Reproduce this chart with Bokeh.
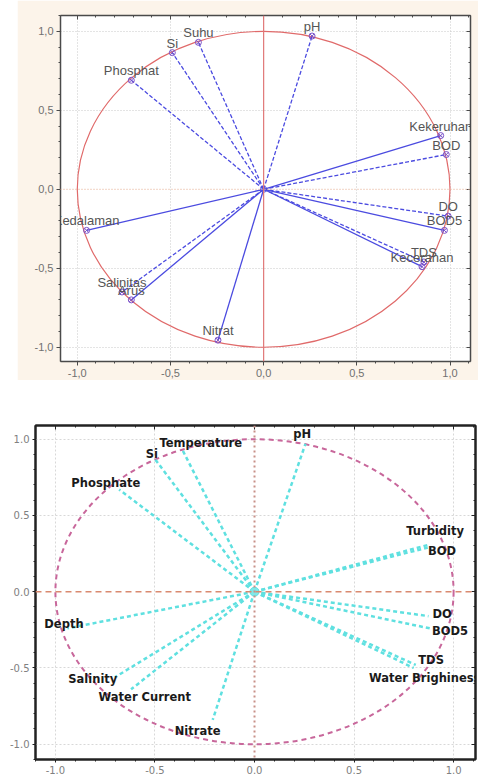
from bokeh.plotting import figure
from bokeh.models import (ColumnDataSource, FixedTicker, LinearAxis, Range1d, Spacer,
                          LabelSet, Span)
from bokeh.layouts import column, row
from bokeh.core.properties import value
from bokeh.embed import file_html
from bokeh.resources import INLINE

# ---------------- data: top panel (Indonesian labels) ----------------
top_names = ["pH", "Suhu", "Si", "Phosphat", "Kekeruhan", "BOD", "DO", "BOD5",
             "TDS", "Kecerahan", "Kedalaman", "Salinitas", "Arus", "Nitrat"]
top_x = [0.26, -0.35, -0.49, -0.71, 0.95, 0.98, 0.99, 0.97, 0.86, 0.85, -0.95, -0.76, -0.71, -0.245]
top_y = [0.97, 0.93, 0.865, 0.69, 0.34, 0.22, -0.17, -0.26, -0.46, -0.49, -0.26, -0.65, -0.70, -0.955]
top_solid = [False, False, False, False, True, False, False, True, False, True, True, False, True, True]

# ---------------- data: bottom panel (English labels) ----------------
bot_names = ["pH", "Temperature", "Si", "Phosphate", "Turbidity", "BOD", "DO", "BOD5",
             "TDS", "Water Brighiness", "Depth", "Salinity", "Water Current", "Nitrate"]
bot_x = [0.256, -0.36, -0.50, -0.68, 0.88, 0.87, 0.874, 0.88, 0.81, 0.80, -0.94, -0.70, -0.62, -0.21]
bot_y = [0.97, 0.925, 0.87, 0.67, 0.31, 0.29, -0.16, -0.24, -0.48, -0.50, -0.24, -0.56, -0.64, -0.84]
# label anchor positions (as placed in the picture)
bot_lab_x = [0.24, -0.27, -0.516, -0.747, 0.907, 0.942, 0.942, 0.982, 0.887, 0.855, -0.957, -0.812, -0.551, -0.286]
bot_lab_y = [1.035, 0.977, 0.906, 0.712, 0.395, 0.265, -0.149, -0.259, -0.447, -0.563, -0.214, -0.57, -0.693, -0.913]

major_ticks = [-1.0, -0.5, 0.0, 0.5, 1.0]
top_tick_labels = ["-1,0", "-0,5", "0,0", "0,5", "1,0"]
bot_tick_labels = ["-1.0", "-0.5", "0.0", "0.5", "1.0"]
minor_ticks = [-1.1, -1.0, -0.9, -0.8, -0.7, -0.6, -0.5, -0.4, -0.3, -0.2, -0.1, 0.0,
               0.1, 0.2, 0.3, 0.4, 0.5, 0.6, 0.7, 0.8, 0.9, 1.0, 1.1]


def style_axes(p, labels, color, label_color, font, fsize, lw, tick_out):
    overrides = {t: l for t, l in zip(major_ticks, labels)}
    for ax in list(p.xaxis) + list(p.yaxis):
        ax.ticker = FixedTicker(ticks=major_ticks, minor_ticks=minor_ticks)
        ax.major_label_overrides = overrides
        ax.axis_line_color = color
        ax.axis_line_width = lw
        ax.major_tick_line_color = color
        ax.minor_tick_line_color = color
        ax.major_tick_in = 0
        ax.major_tick_out = tick_out
        ax.minor_tick_in = 0
        ax.minor_tick_out = 2
        ax.major_label_text_color = label_color
        ax.major_label_text_font = font
        ax.major_label_text_font_size = fsize
        ax.major_label_standoff = 3
    blank = {t: "" for t in major_ticks}
    for side in ("right", "above"):
        ax = LinearAxis(ticker=FixedTicker(ticks=major_ticks, minor_ticks=minor_ticks),
                        major_label_overrides=blank, major_label_standoff=0,
                        axis_line_color=color, axis_line_width=lw,
                        major_tick_line_color=color, minor_tick_line_color=color,
                        major_tick_in=4, major_tick_out=0, minor_tick_in=2, minor_tick_out=0)
        p.add_layout(ax, side)


# ================= top panel =================
p1 = figure(width=461, height=380, output_backend="svg", toolbar_location=None,
            x_range=Range1d(-1.09, 1.11), y_range=Range1d(-1.09, 1.1),
            min_border_top=15, min_border_bottom=19, min_border_left=43, min_border_right=8,
            background_fill_color="white", border_fill_color="#fcf4ea")
p1.outline_line_color = "#707070"
p1.grid.grid_line_color = "#c8c8c8"
p1.grid.grid_line_dash = "1 2"
p1.grid.ticker = FixedTicker(ticks=[-1.0, -0.5, 0.5, 1.0])
style_axes(p1, top_tick_labels, "#4a4a4a", "#707070", "Liberation Sans", "11px", 1.5, 4)

p1.add_layout(Span(location=0, dimension="height", line_color="#e07878", line_width=1.2))
p1.add_layout(Span(location=0, dimension="width", line_color="#e8b8a0", line_width=1.2,
                   line_dash="1 2"))
p1.ellipse(x=0, y=0, width=2, height=2, fill_alpha=0, line_color="#e06a6a", line_width=1.2)

src_top = ColumnDataSource(dict(x=top_x, y=top_y, name=top_names))
solid_idx = [i for i, s in enumerate(top_solid) if s]
dash_idx = [i for i, s in enumerate(top_solid) if not s]
src_solid = ColumnDataSource(dict(x=[top_x[i] for i in solid_idx], y=[top_y[i] for i in solid_idx]))
src_dash = ColumnDataSource(dict(x=[top_x[i] for i in dash_idx], y=[top_y[i] for i in dash_idx]))
p1.segment(x0=0, y0=0, x1="x", y1="y", source=src_solid, line_color="#4b4be0", line_width=1.3)
p1.segment(x0=0, y0=0, x1="x", y1="y", source=src_dash, line_color="#4b4be0", line_width=1.3,
           line_dash="4 2")
p1.scatter(x="x", y="y", source=src_top, marker="circle_x", size=6, line_color="#7a50c8",
           fill_color=None, line_width=1)
p1.scatter(x=[0], y=[0], marker="circle", size=6, line_color="#4b4be0", fill_color=None)
p1.text(x="x", y="y", text="name", source=src_top, text_align="center", text_baseline="bottom",
        y_offset=-2, text_font=value("Liberation Sans"), text_font_size="13px",
        text_color="#555555")

# ================= bottom panel =================
p2 = figure(width=486, height=396, output_backend="svg", toolbar_location=None,
            x_range=Range1d(-1.1, 1.11), y_range=Range1d(-1.1, 1.09),
            min_border_top=45, min_border_bottom=17, min_border_left=35, min_border_right=11,
            background_fill_color="white", border_fill_color="white")
p2.outline_line_color = "#222222"
p2.outline_line_width = 2
p2.grid.grid_line_color = "#d8d8d8"
p2.grid.grid_line_dash = "2 2"
p2.grid.ticker = FixedTicker(ticks=[-1.0, -0.5, 0.5, 1.0])
style_axes(p2, bot_tick_labels, "#222222", "#808080", "DejaVu Sans", "10px", 2, 3)

p2.add_layout(Span(location=0, dimension="width", line_color="#d98a70", line_width=1.5,
                   line_dash="6 4"))
p2.add_layout(Span(location=0, dimension="height", line_color="#c89088", line_width=2,
                   line_dash="2 3"))
p2.ellipse(x=0, y=0, width=2, height=2, fill_alpha=0, line_color="#c8679b", line_width=2,
           line_dash="5 4")

src_bot = ColumnDataSource(dict(x=bot_x, y=bot_y))
p2.segment(x0=0, y0=0, x1="x", y1="y", source=src_bot, line_color="#5fe0e0", line_width=2.5,
           line_dash="4 3")
p2.scatter(x=[0], y=[0], marker="circle", size=9, fill_color="#7fe8e8", line_color="#5fe0e0")

src_bl = ColumnDataSource(dict(x=bot_lab_x, y=bot_lab_y, name=bot_names))
p2.add_layout(LabelSet(x="x", y="y", text="name", source=src_bl, text_align="center",
                       text_baseline="middle", text_font=value("DejaVu Sans"),
                       text_font_style="bold", text_font_size="11.5px", text_color="#1a1a1a"))

layout = column(row(Spacer(width=17), p1), p2, spacing=0)
open("out.html", "w").write(file_html(layout, INLINE))
